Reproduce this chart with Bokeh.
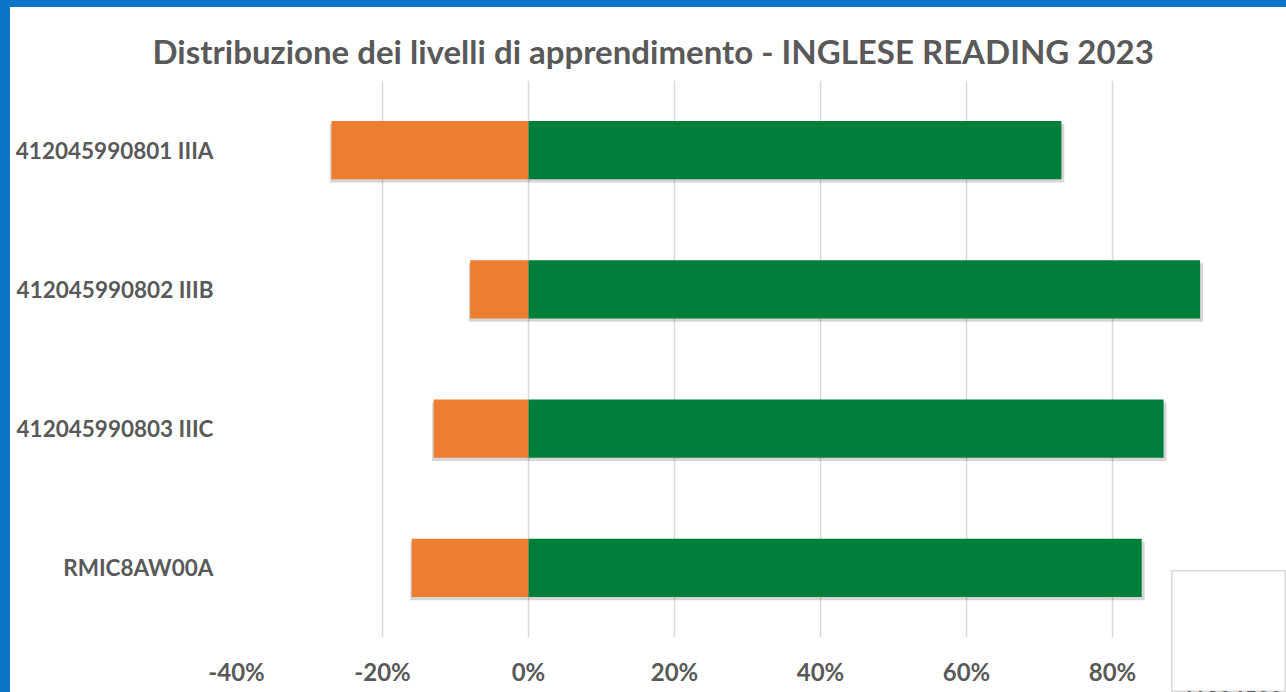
from bokeh.plotting import figure
from bokeh.models import (ColumnDataSource, FactorRange, NumeralTickFormatter, Label, FixedTicker,
                          Div, GridBox)
from bokeh.transform import dodge
from bokeh.embed import file_html
from bokeh.resources import INLINE

title_text = "Distribuzione dei livelli di apprendimento - INGLESE READING 2023"
categories = ["412045990801 IIIA", "412045990802 IIIB", "412045990803 IIIC", "RMIC8AW00A"]
below_level = [-0.27, -0.08, -0.13, -0.16]
above_level = [0.73, 0.92, 0.87, 0.84]
x_ticks = [-0.4, -0.2, 0.0, 0.2, 0.4, 0.6, 0.8, 1.0]
legend_peek_text = "412045990801 IIIA"

GREY = "#595959"
BLUE = "#0b74c6"
FONT = "Lato"

src = ColumnDataSource(dict(cat=categories, neg=below_level, pos=above_level,
                            zero=[0.0] * len(categories)))

p = figure(width=1276, height=685, output_backend="svg", toolbar_location=None,
           y_range=FactorRange(factors=list(reversed(categories))),
           x_range=(-0.4, 1.0), frame_align=False,
           min_border_left=226, min_border_right=28, min_border_top=73, min_border_bottom=55)
p.outline_line_color = None
p.background_fill_color = "white"
p.border_fill_color = "white"

# title
p.title.text = title_text
p.title.align = "left"
p.title.offset = -84
p.title.standoff = 20
p.title.text_font = FONT
p.title.text_font_style = "bold"
p.title.text_font_size = "33px"
p.title.text_color = GREY

# shadow
p.hbar(y=dodge("cat", -0.022, range=p.y_range), left=dodge("neg", -0.002), right=dodge("pos", 0.004),
       height=0.42, source=src, fill_color="black", fill_alpha=0.16, line_color=None)
p.hbar(y="cat", left="neg", right="zero", height=0.42, source=src,
       fill_color="#ED7D31", line_color=None)
p.hbar(y="cat", left="zero", right="pos", height=0.42, source=src,
       fill_color="#007E3A", line_color=None)

# axes
p.xaxis.ticker = FixedTicker(ticks=x_ticks)
p.xaxis.formatter = NumeralTickFormatter(format="0%")
for ax in (p.xaxis[0], p.yaxis[0]):
    ax.axis_line_color = None
    ax.major_tick_line_color = None
    ax.minor_tick_line_color = None
    ax.major_tick_out = 0
    ax.major_tick_in = 0
    ax.minor_tick_out = 0
    ax.major_label_text_font = FONT
    ax.major_label_text_font_style = "bold"
    ax.major_label_text_color = GREY
p.xaxis.major_label_text_font_size = "24px"
p.yaxis.major_label_text_font_size = "22.5px"
p.xaxis.major_label_standoff = 19
p.yaxis.major_label_standoff = 23

p.xgrid.grid_line_color = "#d9d9d9"
p.xgrid.grid_line_width = 1.5
p.ygrid.grid_line_color = None

# box of a neighbouring chart peeking in at the bottom right
peek = figure(width=115, height=122, output_backend="svg", toolbar_location=None, title=None,
              x_range=(0, 1), y_range=(0, 1), x_axis_type=None, y_axis_type=None,
              min_border=0, frame_align=False)
peek.grid.visible = False
peek.background_fill_color = "white"
peek.border_fill_color = "white"
peek.outline_line_color = "#d9d9d9"
peek.outline_line_width = 2
peek.add_layout(Label(x=9, y=7, x_units="screen", y_units="screen", text=legend_peek_text,
                      text_font=FONT, text_font_style="bold", text_font_size="22px",
                      text_color=GREY, text_align="left", text_baseline="top"))

left_strip = Div(width=10, height=692, margin=0, styles={"background-color": BLUE})
top_strip = Div(width=1286, height=7, margin=0, styles={"background-color": BLUE})

grid = GridBox(children=[(top_strip, 0, 0, 1, 3), (left_strip, 0, 0, 3, 1),
                         (p, 1, 1, 2, 2), (peek, 2, 2, 1, 1)],
               rows=["7px", "563px", "122px"], cols=["10px", "1161px", "115px"],
               spacing=0, width=1286, height=692)

html = file_html(grid, INLINE)
html = html.replace("</head>", "<style>html,body{margin:0;overflow:hidden;}</style></head>", 1)
open("out.html", "w").write(html)
